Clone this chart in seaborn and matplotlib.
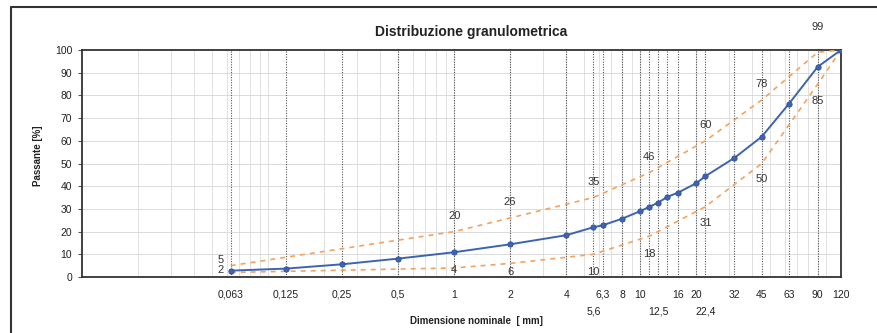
import numpy as np
import pandas as pd
import matplotlib
matplotlib.use("Agg")
import matplotlib.pyplot as plt
from matplotlib.ticker import FixedLocator, FixedFormatter
from matplotlib.lines import Line2D
import seaborn as sns

# ---------------- data ----------------
sizes = [0.063, 0.125, 0.25, 0.5, 1, 2, 4, 5.6, 6.3, 8, 10, 11.2, 12.5, 14,
         16, 20, 22.4, 32, 45, 63, 90, 120]
passing = [2.8, 3.7, 5.6, 8.1, 10.9, 14.4, 18.4, 21.9, 22.8, 25.7, 29.0, 30.9,
           32.8, 35.3, 37.2, 41.3, 44.4, 52.4, 61.8, 76.3, 92.6, 100]

env_sizes = [0.063, 1, 2, 5.6, 11.2, 22.4, 45, 90, 120]
upper_env = [5, 20, 26, 35, 46, 60, 78, 99, 100]
lower_env = [2, 4, 6, 10, 18, 31, 50, 85, 100]

tick_row1 = [0.063, 0.125, 0.25, 0.5, 1, 2, 4, 6.3, 8, 10, 16, 20, 32, 45, 63, 90, 120]
tick_row1_labels = ["0,063", "0,125", "0,25", "0,5", "1", "2", "4", "6,3", "8", "10",
                    "16", "20", "32", "45", "63", "90", "120"]
tick_row2 = [5.6, 12.5, 22.4]
tick_row2_labels = ["5,6", "12,5", "22,4"]

title = "Distribuzione granulometrica"
ylabel = "Passante [%]"
xlabel = "Dimensione nominale  [ mm]"

# ---------------- style ----------------
sns.set_style("white")
plt.rcParams['font.family'] = ['Liberation Sans', 'DejaVu Sans']

W, H = 877, 333
fig = plt.figure(figsize=(W / 100, H / 100), dpi=100)
ax = fig.add_axes([82 / W, 1 - 277 / H, (841 - 82) / W, (277 - 50) / H])

ax.set_xscale("log")
ax.set_xlim(0.01, 120)
ax.set_ylim(0, 100)

# light log grid
for dec in range(-2, 3):
    for k in range(1, 10):
        v = k * 10.0 ** dec
        if 0.01 < v < 120:
            ax.axvline(v, color="#dcdcdc", lw=0.6, zorder=0)
for yv in range(10, 100, 10):
    ax.axhline(yv, color="#d6d6d6", lw=0.6, zorder=0)

# dotted sieve lines
for s in sizes[:-1]:
    ax.axvline(s, color="#555555", lw=0.8, ls=(0, (1, 1.3)), zorder=1)

df_env = pd.DataFrame({"d": env_sizes, "up": upper_env, "lo": lower_env})
df = pd.DataFrame({"d": sizes, "p": passing})

sns.lineplot(data=df_env, x="d", y="up", ax=ax, color="#F3A35E", lw=1.2,
             linestyle=(0, (3, 3)), zorder=3)
sns.lineplot(data=df_env, x="d", y="lo", ax=ax, color="#F3A35E", lw=1.2,
             linestyle=(0, (3, 3)), zorder=3)
sns.lineplot(data=df, x="d", y="p", ax=ax, color="#3E63B0", lw=1.4,
             marker="o", markersize=3.8, markeredgecolor="#2C509F",
             markeredgewidth=0.6, zorder=5)

# envelope labels
up_off = [(-7.5, 4)] + [(0, 11.5)] * 6 + [(0, 18)]
lo_off = [(-7.5, 1.5), (0, -1.3), (0, -6), (0, -12.5), (0, -12.5), (0, -12),
          (0, -11.5), (0, -12)]
for i in range(len(upper_env) - 1):
    ax.annotate(str(upper_env[i]), (env_sizes[i], upper_env[i]), xytext=up_off[i],
                textcoords="offset points", ha="center", va="center",
                fontsize=8, color="#333333", zorder=6)
    ax.annotate(str(lower_env[i]), (env_sizes[i], lower_env[i]), xytext=lo_off[i],
                textcoords="offset points", ha="center", va="center",
                fontsize=8, color="#333333", zorder=6)

# ticks
ax.xaxis.set_major_locator(FixedLocator(tick_row1))
ax.xaxis.set_major_formatter(FixedFormatter(tick_row1_labels))
ax.xaxis.set_minor_locator(FixedLocator(tick_row2))
ax.xaxis.set_minor_formatter(FixedFormatter(tick_row2_labels))
ax.tick_params(axis="x", which="major", length=0, pad=9, labelsize=7.5,
               labelcolor="#222222")
ax.tick_params(axis="x", which="minor", length=0, pad=21, labelsize=7.5,
               labelcolor="#222222")
ax.set_yticks(range(0, 101, 10))
ax.tick_params(axis="y", length=3, width=0.8, color="#555555", pad=4,
               labelsize=7.5, labelcolor="#222222", left=True)
ax.set_xlabel("")
ax.set_ylabel("")

for sp in ax.spines.values():
    sp.set_color("#333333")
    sp.set_linewidth(1.3)
    sp.set_visible(True)

fig.text(471 / W, 1 - 32 / H, title, ha="center", va="center", fontsize=10,
         weight="bold", color="#222222")
fig.text(38 / W, 1 - 156 / H, ylabel, ha="center", va="center", rotation=90,
         fontsize=7, weight="bold", color="#222222")
fig.text(476 / W, 1 - 321 / H, xlabel, ha="center", va="center",
         fontsize=7, weight="bold", color="#222222")

# outer frame
fig.add_artist(Line2D([11 / W, 11 / W], [0, 1 - 7 / H], transform=fig.transFigure,
                      color="#333333", lw=1.5))
fig.add_artist(Line2D([11 / W, 1], [1 - 7 / H, 1 - 7 / H], transform=fig.transFigure,
                      color="#333333", lw=1.5))

fig.savefig("out.png", dpi=100)
